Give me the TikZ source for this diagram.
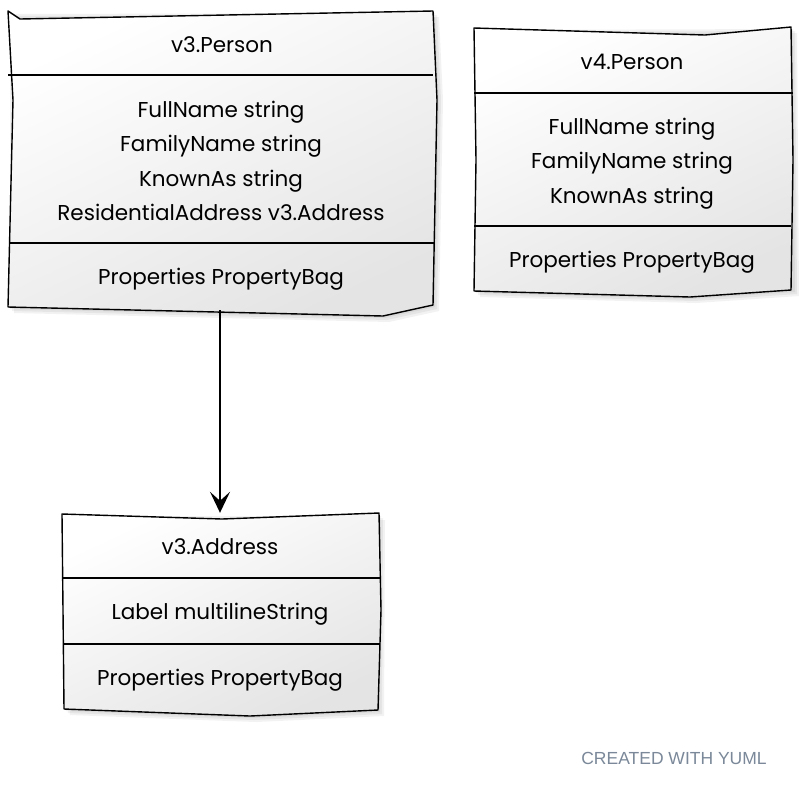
\documentclass[tikz,border=0pt]{standalone}
\usepackage{fontspec}
\setmainfont{Poppins}
\newfontfamily\footfont{Liberation Sans}
\usepackage{tikz}
\usetikzlibrary{positioning,fit,arrows.meta}

\definecolor{footgray}{HTML}{7A8899}
\definecolor{boxfill}{HTML}{E4E4E4}

\tikzset{
  classbox/.style={draw=black, line width=1.4pt, line join=round,
    top color=white, bottom color=boxfill, shading angle=25},
  boxshadow/.style={fill=black, opacity=0.05, draw=none},
  divider/.style={draw=black, line width=1.4pt},
  title/.style={font=\fontsize{21.5}{21.5}\selectfont, inner sep=0pt},
  member/.style={font=\fontsize{21.5}{21.5}\selectfont, inner sep=0pt,
    minimum height=34pt, text height=18pt, text depth=3pt},
  boxarea/.style={inner sep=0pt, draw=none},
  assoc/.style={draw=black, line width=1.6pt,
    -{Stealth[length=21pt, width=20pt, inset=9pt]}},
}

\begin{document}
\begin{tikzpicture}[x=1pt, y=-1pt]
  \useasboundingbox[fill=white] (0,0) rectangle (799,788);

  % shadows
  \foreach \d in {2,4,6} {
    \fill[boxshadow] (8+\d,12+\d) -- (433+\d,11+\d) -- (437+\d,100) -- (433+\d,305+\d)
      -- (383+\d,316+\d) -- (8+\d,307+\d) -- cycle;
    \fill[boxshadow] (474+\d,28+\d) -- (791+\d,27+\d) -- (793+\d,290+\d)
      -- (690+\d,297+\d) -- (474+\d,291+\d) -- cycle;
    \fill[boxshadow] (62+\d,514+\d) -- (379+\d,514+\d) -- (378+\d,710+\d)
      -- (250+\d,716+\d) -- (64+\d,709+\d) -- cycle;
  }

  % v3.Person
  \path[classbox] (8,11) -- (20,19) -- (433,11) -- (437,100) -- (433,305)
    -- (383,316) -- (8,307) -- (13,100) -- cycle;
  \draw[divider] (8,75) -- (433,75);
  \draw[divider] (9,243) -- (434,243);
  \node[boxarea, fit={(8,12)(432,310)}] (v3person) {};
  \node[title] (p3title) at (222,45) {v3.Person};
  \node[member] (p3full) at (221,110) {FullName string};
  \node[member, below=0pt of p3full] (p3family) {FamilyName string};
  \node[member, below=0pt of p3family] (p3known) {KnownAs string};
  \node[member, below=0pt of p3known] (p3addr) {ResidentialAddress v3.Address};
  \node[member] (p3props) at (221,277) {Properties PropertyBag};

  % v4.Person
  \path[classbox] (474,28) -- (705,35) -- (791,27) -- (793,160) -- (791,290)
    -- (690,297) -- (474,291) -- (476,160) -- cycle;
  \draw[divider] (474,93) -- (793,93);
  \draw[divider] (474,226) -- (791,226);
  \node[boxarea, fit={(474,28)(793,297)}] (v4person) {};
  \node[title] (p4title) at (632,62) {v4.Person};
  \node[member] (p4full) at (632,127) {FullName string};
  \node[member, below=0pt of p4full] (p4family) {FamilyName string};
  \node[member, below=0pt of p4family] (p4known) {KnownAs string};
  \node[member] (p4props) at (632,260) {Properties PropertyBag};

  % v3.Address
  \path[classbox] (62,514) -- (222,519) -- (379,513) -- (381,610) -- (378,710)
    -- (250,716) -- (64,709) -- (63,610) -- cycle;
  \draw[divider] (63,578) -- (380,578);
  \draw[divider] (63,644) -- (380,644);
  \node[boxarea, fit={(60,513)(380,716)}] (v3address) {};
  \node[title] (a3title) at (220,547) {v3.Address};
  \node[member] (a3label) at (220,612) {Label multilineString};
  \node[member] (a3props) at (220,678) {Properties PropertyBag};

  % association
  \draw[assoc] (v3person.south) -- (v3address.north);

  \node[font=\footfont\fontsize{17.5}{17.5}\selectfont, text=footgray, inner sep=0pt]
    (credit) at (674,758) {CREATED WITH YUML};
\end{tikzpicture}
\end{document}
